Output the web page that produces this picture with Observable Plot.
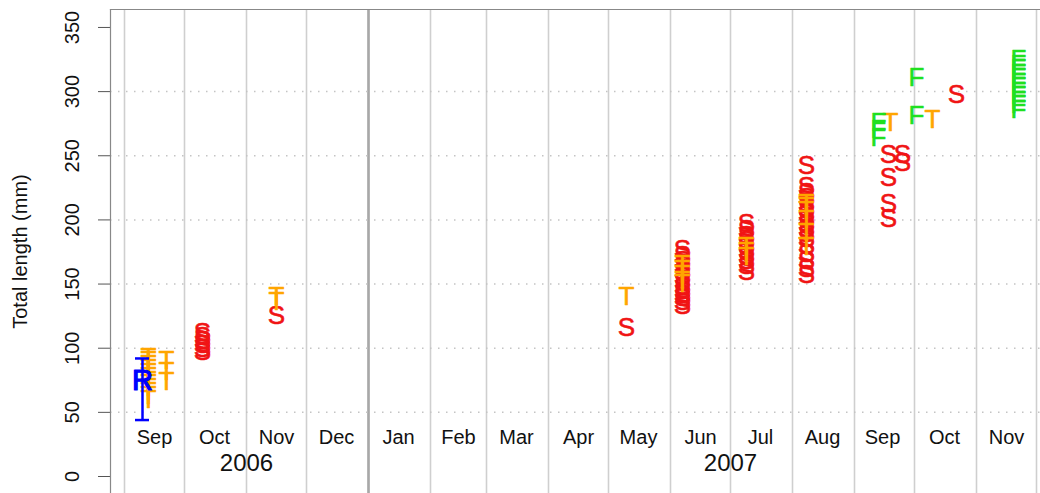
<!DOCTYPE html>
<html>
<head>
<meta charset="utf-8">
<script src="https://cdn.jsdelivr.net/npm/d3@7"></script>
<script src="https://cdn.jsdelivr.net/npm/@observablehq/plot@0.6"></script>
<style>
  html, body { margin: 0; padding: 0; background: #fff; }
  #chart svg { display: block; }
</style>
</head>
<body>
<div id="chart"></div>
<script>
// ---- Data ----
const yTicks = [0, 50, 100, 150, 200, 250, 300, 350];
const yGrid = [50, 100, 150, 200, 250, 300];

const monthStarts = ["2006-09-01","2006-10-01","2006-11-01","2006-12-01","2007-01-01","2007-02-01","2007-03-01","2007-04-01","2007-05-01","2007-06-01","2007-07-01","2007-08-01","2007-09-01","2007-10-01","2007-11-01","2007-12-01"];
const yearBoundary = ["2007-01-01"];
const monthNames = ["Sep","Oct","Nov","Dec","Jan","Feb","Mar","Apr","May","Jun","Jul","Aug","Sep","Oct","Nov"];
const monthMids = ["2006-09-16","2006-10-16","2006-11-16","2006-12-16","2007-01-16","2007-02-15","2007-03-16","2007-04-16","2007-05-16","2007-06-16","2007-07-16","2007-08-16","2007-09-15","2007-10-16","2007-11-16"];
const yearNames = ["2006","2007"];
const yearDates = ["2006-11-01","2007-07-01"];

// R: mean with range bar
const rDates = ["2006-09-10"];
const rMean = [75];
const rLow = [44];
const rHigh = [92];

// T (orange)
const tDates = [
  "2006-09-13","2006-09-13","2006-09-13","2006-09-13","2006-09-13","2006-09-13","2006-09-13","2006-09-13","2006-09-13","2006-09-13","2006-09-13","2006-09-13",
  "2006-09-22","2006-09-22","2006-09-22",
  "2006-11-16","2006-11-16",
  "2007-05-10",
  "2007-06-07","2007-06-07","2007-06-07","2007-06-07","2007-06-07",
  "2007-07-09","2007-07-09","2007-07-09",
  "2007-08-08","2007-08-08","2007-08-08","2007-08-08","2007-08-08","2007-08-08",
  "2007-09-19",
  "2007-10-10"
];
const tLengths = [
  93, 90, 87, 84, 81, 78, 75, 72, 69, 66, 63, 60,
  90, 82, 74,
  140, 136,
  140,
  165, 161, 157, 153, 150,
  179, 175, 171,
  213, 210, 207, 200, 190, 179,
  276,
  278
];

// S (red)
const sDates = [
  "2006-10-10","2006-10-10","2006-10-10","2006-10-10","2006-10-10","2006-10-10",
  "2006-11-16",
  "2007-05-10",
  "2007-06-07","2007-06-07","2007-06-07","2007-06-07","2007-06-07","2007-06-07","2007-06-07","2007-06-07","2007-06-07","2007-06-07","2007-06-07","2007-06-07","2007-06-07",
  "2007-07-09","2007-07-09","2007-07-09","2007-07-09","2007-07-09","2007-07-09","2007-07-09","2007-07-09","2007-07-09","2007-07-09",
  "2007-08-08","2007-08-08","2007-08-08","2007-08-08","2007-08-08","2007-08-08","2007-08-08","2007-08-08","2007-08-08","2007-08-08","2007-08-08","2007-08-08","2007-08-08","2007-08-08","2007-08-08","2007-08-08","2007-08-08",
  "2007-09-18","2007-09-18","2007-09-18","2007-09-18",
  "2007-09-25","2007-09-25",
  "2007-10-22"
];
const sLengths = [
  112, 109, 106, 103, 100, 97,
  125,
  116,
  177, 172, 168, 164, 160, 156, 152, 148, 145, 142, 139, 136, 133,
  197, 192, 188, 184, 180, 176, 172, 168, 164, 160,
  242, 226, 221, 217, 213, 209, 205, 201, 197, 193, 189, 185, 180, 174, 168, 162, 157,
  251, 233, 213, 201,
  251, 245,
  298
];

// F (green)
const fDates = [
  "2007-09-13","2007-09-13","2007-09-13",
  "2007-10-02","2007-10-02",
  "2007-11-22","2007-11-22","2007-11-22","2007-11-22","2007-11-22","2007-11-22","2007-11-22","2007-11-22","2007-11-22","2007-11-22","2007-11-22","2007-11-22"
];
const fLengths = [
  276, 270, 264,
  311, 281,
  325, 321, 318, 314, 311, 307, 304, 300, 297, 293, 290, 286
];

// ---- Build ----
const parse = s => new Date(s + "T00:00:00Z");
const pts = (dates, vals) => dates.map((d, i) => ({date: parse(d), len: vals[i]}));
const tData = pts(tDates, tLengths);
const sData = pts(sDates, sLengths);
const fData = pts(fDates, fLengths);
const rData = rDates.map((d, i) => ({date: parse(d), mean: rMean[i], lo: rLow[i], hi: rHigh[i]}));
const rCaps = rData.flatMap(d => [{date: d.date, v: d.lo}, {date: d.date, v: d.hi}]);
const months = monthMids.map((d, i) => ({date: parse(d), name: monthNames[i]}));
const years = yearDates.map((d, i) => ({date: parse(d), name: yearNames[i]}));

const xDomain = [parse("2006-08-25"), parse("2007-12-03")];
const font = "'Liberation Sans', Arial, Helvetica, sans-serif";
const RED = "#f01414", ORANGE = "#ffa500", GREEN = "#1fe01f", BLUE = "#0000ff";
const monthLabelY = 30, yearLabelY = 10;
const letter = (color, size) => ({fill: color, stroke: color, strokeWidth: 0.6, fontSize: size, textAnchor: "middle", lineAnchor: "middle"});

const chart = Plot.plot({
  width: 1040,
  height: 493,
  marginLeft: 110,
  marginTop: 9,
  marginBottom: 0,
  marginRight: 0,
  style: {fontFamily: font, background: "#fff", color: "#555", overflow: "visible"},
  x: {type: "utc", domain: xDomain, axis: null},
  y: {domain: [-13.25, 364], ticks: yTicks, tickSize: 12, tickPadding: 0, tickFormat: () => "", label: null, axis: "left"},
  marks: [
    Plot.ruleX(monthStarts.map(parse), {stroke: "#cfcfcf", strokeWidth: 1.6}),
    Plot.ruleX(yearBoundary.map(parse), {stroke: "#a8a8a8", strokeWidth: 2.6}),
    Plot.ruleY(yGrid, {stroke: "#c4c4c4", strokeWidth: 1.5, strokeDasharray: "1.5 6.5"}),
    Plot.frame({anchor: "left", stroke: "#888", strokeWidth: 1.2}),
    Plot.frame({anchor: "top", stroke: "#888", strokeWidth: 1.2}),
    // y tick labels (rotated, R style)
    Plot.text(yTicks, {y: d => d, text: d => String(d), frameAnchor: "left", dx: -38, rotate: -90, textAnchor: "middle", lineAnchor: "middle", fontSize: 20, fill: "#111"}),
    Plot.text(["Total length (mm)"], {frameAnchor: "left", dx: -90, rotate: -90, textAnchor: "middle", lineAnchor: "middle", fontSize: 20, fill: "#111"}),
    // month & year labels
    Plot.text(months, {x: "date", y: () => monthLabelY, text: "name", fontSize: 20, fill: "#111"}),
    Plot.text(years, {x: "date", y: () => yearLabelY, text: "name", fontSize: 24, fill: "#111"}),
    // data letters
    Plot.text(sData, {x: "date", y: "len", text: () => "S", ...letter(RED, 26)}),
    Plot.text(tData, {x: "date", y: "len", text: () => "T", ...letter(ORANGE, 26)}),
    Plot.text(fData, {x: "date", y: "len", text: () => "F", ...letter(GREEN, 26)}),
    Plot.ruleX(rData, {x: "date", y1: "lo", y2: "hi", stroke: BLUE, strokeWidth: 2.5}),
    Plot.ruleY(rCaps, {y: "v", x1: "date", x2: "date", insetLeft: -7, insetRight: -7, stroke: BLUE, strokeWidth: 2.5}),
    Plot.text(rData, {x: "date", y: "mean", text: () => "R", ...letter(BLUE, 29), strokeWidth: 1.2})
  ]
});
document.getElementById("chart").appendChild(chart);
</script>
</body>
</html>
